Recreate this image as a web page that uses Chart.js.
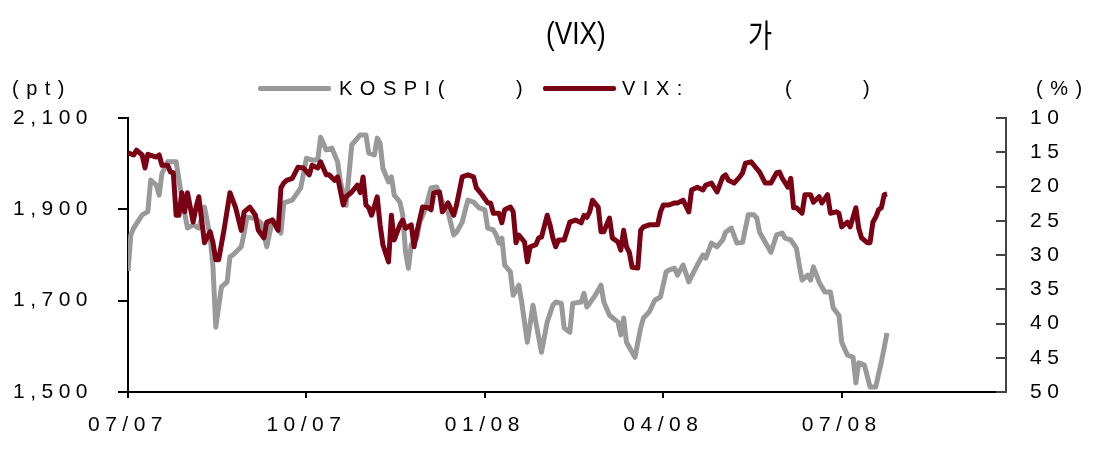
<!DOCTYPE html>
<html>
<head>
<meta charset="utf-8">
<script src="https://cdn.jsdelivr.net/npm/chart.js@4/dist/chart.umd.min.js"></script>
<style>
  html, body { margin: 0; padding: 0; background: #fff; }
  #wrap { position: relative; width: 1096px; height: 450px; font-family: "Liberation Sans", Arial, sans-serif; color: #000; }
  #wrap canvas { position: absolute; left: 0; top: 0; }
  .t { position: absolute; white-space: pre; line-height: 1; }
  .title { font-size: 32px; transform: scaleX(0.82); transform-origin: left top; }
  .lg { font-size: 20px; letter-spacing: 7.5px; top: 78px; }
  .sw { position: absolute; top: 86px; width: 73px; height: 5px; border-radius: 2px; }
</style>
</head>
<body>
<div id="wrap">
  <canvas id="c" width="1096" height="450"></canvas>
  <span class="t title" style="left:546px;top:17px;">(VIX)</span>
  <span class="t title" style="left:748px;top:17px;font-family:'Noto Sans CJK KR';">가</span>

  <span class="t lg" style="left:12px;">(pt)</span>
  <div class="sw" style="left:258px;background:#999999;"></div>
  <span class="t lg" style="left:339px;">KOSPI(</span>
  <span class="t lg" style="left:516px;">)</span>
  <div class="sw" style="left:543px;background:#7a0014;"></div>
  <span class="t lg" style="left:622px;">VIX:</span>
  <span class="t lg" style="left:785px;">(</span>
  <span class="t lg" style="left:863px;">)</span>
  <span class="t lg" style="left:1036px;">(%)</span>
</div>
<script>
// x = trading day counted from early July 2007 (about 63 per quarter)
const quarterLabels = ["07/07", "10/07", "01/08", "04/08", "07/08"];
const quarterDays = [0, 63, 126, 189, 252];

// KOSPI (pt), left axis
const kospiPoints = [
  [0,1765],[1,1844],[2,1859],[5,1888],[7,1895],[8,1964],[10,1953],[11,1931],[12,1979],[14,2004],
  [17,2004],[19,1925],[21,1859],[23,1866],[25,1859],[27,1905],[29,1840],[30,1774],[31,1642],[33,1730],
  [35,1741],[36,1796],[37,1800],[40,1818],[41,1848],[42,1883],[45,1880],[47,1870],[48,1845],[49,1818],
  [51,1877],[54,1848],[55,1914],[58,1920],[61,1947],[63,2012],[65,2008],[67,2008],[68,2058],[70,2030],
  [72,2034],[74,2004],[75,1960],[77,1909],[79,2041],[82,2063],[84,2063],[85,2023],[87,2019],[88,2056],
  [89,2045],[90,1990],[92,1960],[93,1971],[94,1931],[96,1916],[97,1888],[98,1806],[99,1771],[100,1822],
  [102,1837],[103,1872],[105,1900],[107,1947],[109,1949],[111,1916],[113,1894],[115,1844],[116,1850],[118,1872],
  [120,1920],[122,1916],[124,1903],[126,1899],[127,1859],[129,1855],[130,1844],[131,1826],[132,1837],[133,1778],
  [135,1763],[136,1712],[138,1734],[139,1697],[141,1609],[143,1690],[144,1653],[146,1587],[148,1653],[150,1690],
  [151,1697],[153,1694],[154,1640],[156,1631],[157,1694],[160,1697],[161,1716],[162,1686],[163,1694],[165,1712],
  [167,1734],[168,1697],[170,1668],[173,1653],[174,1625],[175,1662],[176,1609],[178,1587],[179,1576],[181,1640],
  [182,1662],[184,1675],[186,1701],[188,1708],[190,1763],[191,1767],[193,1771],[194,1756],[196,1778],[198,1741],
  [201,1778],[203,1800],[204,1793],[206,1826],[208,1818],[210,1833],[211,1850],[213,1859],[215,1826],[217,1828],
  [219,1888],[221,1888],[222,1881],[223,1850],[225,1828],[227,1806],[229,1844],[231,1848],[232,1837],[234,1833],
  [236,1815],[237,1778],[238,1745],[240,1756],[241,1745],[242,1774],[244,1741],[246,1719],[248,1719],[249,1684],
  [251,1668],[252,1609],[254,1581],[256,1576],[257,1520],[258,1564],[260,1559],[262,1511],[264,1511],[266,1566],
  [268,1629]
];

// VIX (%), right axis (reversed)
const vixPoints = [
  [0,15.1],[2,15.4],[3,14.7],[5,15.4],[6,17.3],[7,15.3],[10,15.7],[11,15.4],[12,16.9],[14,16.9],
  [15,17.9],[16,18.0],[17,24.2],[18,24.2],[19,20.9],[20,23.7],[21,20.9],[23,25.2],[24,23.1],[25,21.5],
  [27,28.2],[29,26.6],[30,28.2],[31,30.7],[32,30.7],[34,26.1],[36,20.9],[38,23.1],[40,26.4],[41,23.7],
  [43,23.0],[45,24.2],[46,26.4],[48,27.5],[49,25.2],[51,24.9],[53,26.4],[54,20.2],[55,19.5],[56,19.1],
  [58,18.8],[60,17.2],[62,17.3],[64,18.3],[65,16.9],[67,17.3],[68,16.4],[70,18.3],[71,18.3],[73,19.1],
  [74,18.6],[76,22.7],[77,21.5],[79,20.8],[81,19.8],[82,20.9],[83,18.6],[84,22.7],[85,23.1],[86,24.2],
  [88,21.5],[89,25.6],[90,28.5],[92,31.0],[93,24.2],[94,27.8],[96,25.6],[97,24.9],[98,26.1],[100,25.6],
  [101,28.8],[102,26.6],[104,23.0],[106,23.1],[107,23.4],[108,20.9],[110,20.8],[111,23.7],[113,22.4],[115,24.2],
  [116,22.7],[118,18.6],[120,18.3],[122,18.6],[123,20.2],[125,21.2],[127,22.4],[128,22.4],[129,23.9],[131,23.9],
  [132,25.3],[133,23.4],[135,23.0],[136,23.7],[137,28.2],[138,27.1],[140,28.1],[141,31.0],[142,28.8],[144,28.5],
  [145,27.5],[146,27.4],[148,24.2],[149,25.6],[150,27.5],[151,28.8],[152,27.8],[154,27.8],[156,25.2],[158,24.9],
  [160,25.3],[161,24.2],[162,24.5],[163,23.7],[164,22.0],[166,23.0],[167,26.6],[168,26.6],[170,24.6],[171,27.5],
  [173,28.1],[174,29.3],[175,26.4],[176,28.8],[177,29.6],[178,31.8],[180,31.9],[181,26.4],[182,25.9],[184,25.6],
  [187,25.6],[188,23.7],[189,22.7],[191,22.7],[193,22.4],[194,22.4],[196,22.0],[198,23.7],[199,20.5],[201,20.1],
  [203,20.5],[204,19.8],[206,19.5],[208,20.8],[210,18.6],[211,18.3],[212,19.1],[214,19.5],[216,18.6],[217,18.0],
  [218,16.6],[220,16.4],[221,16.9],[223,17.9],[225,19.5],[227,19.5],[229,18.0],[230,17.9],[231,18.8],[233,20.1],
  [234,18.8],[235,23.1],[236,23.1],[238,23.9],[239,21.2],[241,21.2],[242,22.3],[244,21.5],[245,22.4],[247,21.2],
  [248,23.9],[250,23.7],[251,23.9],[252,25.9],[254,25.2],[255,25.9],[257,23.1],[258,26.1],[259,27.5],[261,28.2],
  [262,28.2],[263,25.2],[264,24.5],[265,23.4],[266,23.1],[267,21.2],[268,21.1]
];

const tickFont = { family: "'Liberation Sans', Arial, sans-serif", size: 21 };

// letter-spaced tick labels + short inward ticks on the right axis
const axisStyle = {
  id: "axisStyle",
  beforeDraw(chart) {
    chart.ctx.letterSpacing = "5.5px";
  },
  afterDraw(chart) {
    const s = chart.scales.y1;
    const ctx = chart.ctx;
    ctx.save();
    ctx.strokeStyle = "#444";
    ctx.lineWidth = 2;
    ctx.beginPath();
    s.ticks.forEach((t) => {
      const y = Math.round(s.getPixelForValue(t.value));
      ctx.moveTo(s.left - 10, y);
      ctx.lineTo(s.left, y);
    });
    ctx.stroke();
    ctx.restore();
  },
};

new Chart(document.getElementById("c"), {
  type: "line",
  data: {
    datasets: [
      {
        label: "VIX",
        data: vixPoints.map(([x, y]) => ({ x, y })),
        yAxisID: "y1",
        borderColor: "#7a0014",
        borderWidth: 5,
        pointRadius: 0,
        borderJoinStyle: "round",
        order: 1,
      },
      {
        label: "KOSPI",
        data: kospiPoints.map(([x, y]) => ({ x, y })),
        yAxisID: "y",
        borderColor: "#999999",
        borderWidth: 5,
        pointRadius: 0,
        borderJoinStyle: "round",
        order: 2,
      },
    ],
  },
  options: {
    responsive: false,
    animation: false,
    devicePixelRatio: 1,
    events: [],
    layout: { padding: { top: 118, left: 0, right: 0, bottom: 0 } },
    plugins: { legend: { display: false }, tooltip: { enabled: false } },
    scales: {
      x: {
        type: "linear",
        min: 0,
        max: 310,
        afterBuildTicks: (scale) => {
          scale.ticks = quarterDays.map((v) => ({ value: v }));
        },
        afterFit: (scale) => { scale.height = 58; },
        ticks: {
          font: tickFont,
          color: "#000",
          padding: 15,
          maxRotation: 0,
          autoSkip: false,
          callback: (v) => quarterLabels[quarterDays.indexOf(v)],
        },
        grid: { drawOnChartArea: false, tickLength: 6, color: "#000", lineWidth: 2 },
        border: { display: true, color: "#000", width: 2 },
      },
      y: {
        position: "left",
        min: 1500,
        max: 2100,
        afterFit: (scale) => { scale.width = 128; },
        ticks: {
          stepSize: 200,
          font: tickFont,
          color: "#000",
          padding: 25,
          callback: (v) => v.toLocaleString("en-US"),
        },
        grid: { drawOnChartArea: false, tickLength: 10, color: "#000", lineWidth: 2 },
        border: { display: true, color: "#000", width: 2 },
      },
      y1: {
        position: "right",
        reverse: true,
        min: 10,
        max: 50,
        afterFit: (scale) => { scale.width = 90; },
        ticks: { stepSize: 5, font: tickFont, color: "#000", padding: 24 },
        grid: { display: false, drawTicks: false },
        border: { display: true, color: "#444", width: 2 },
      },
    },
  },
  plugins: [axisStyle],
});
</script>
</body>
</html>
